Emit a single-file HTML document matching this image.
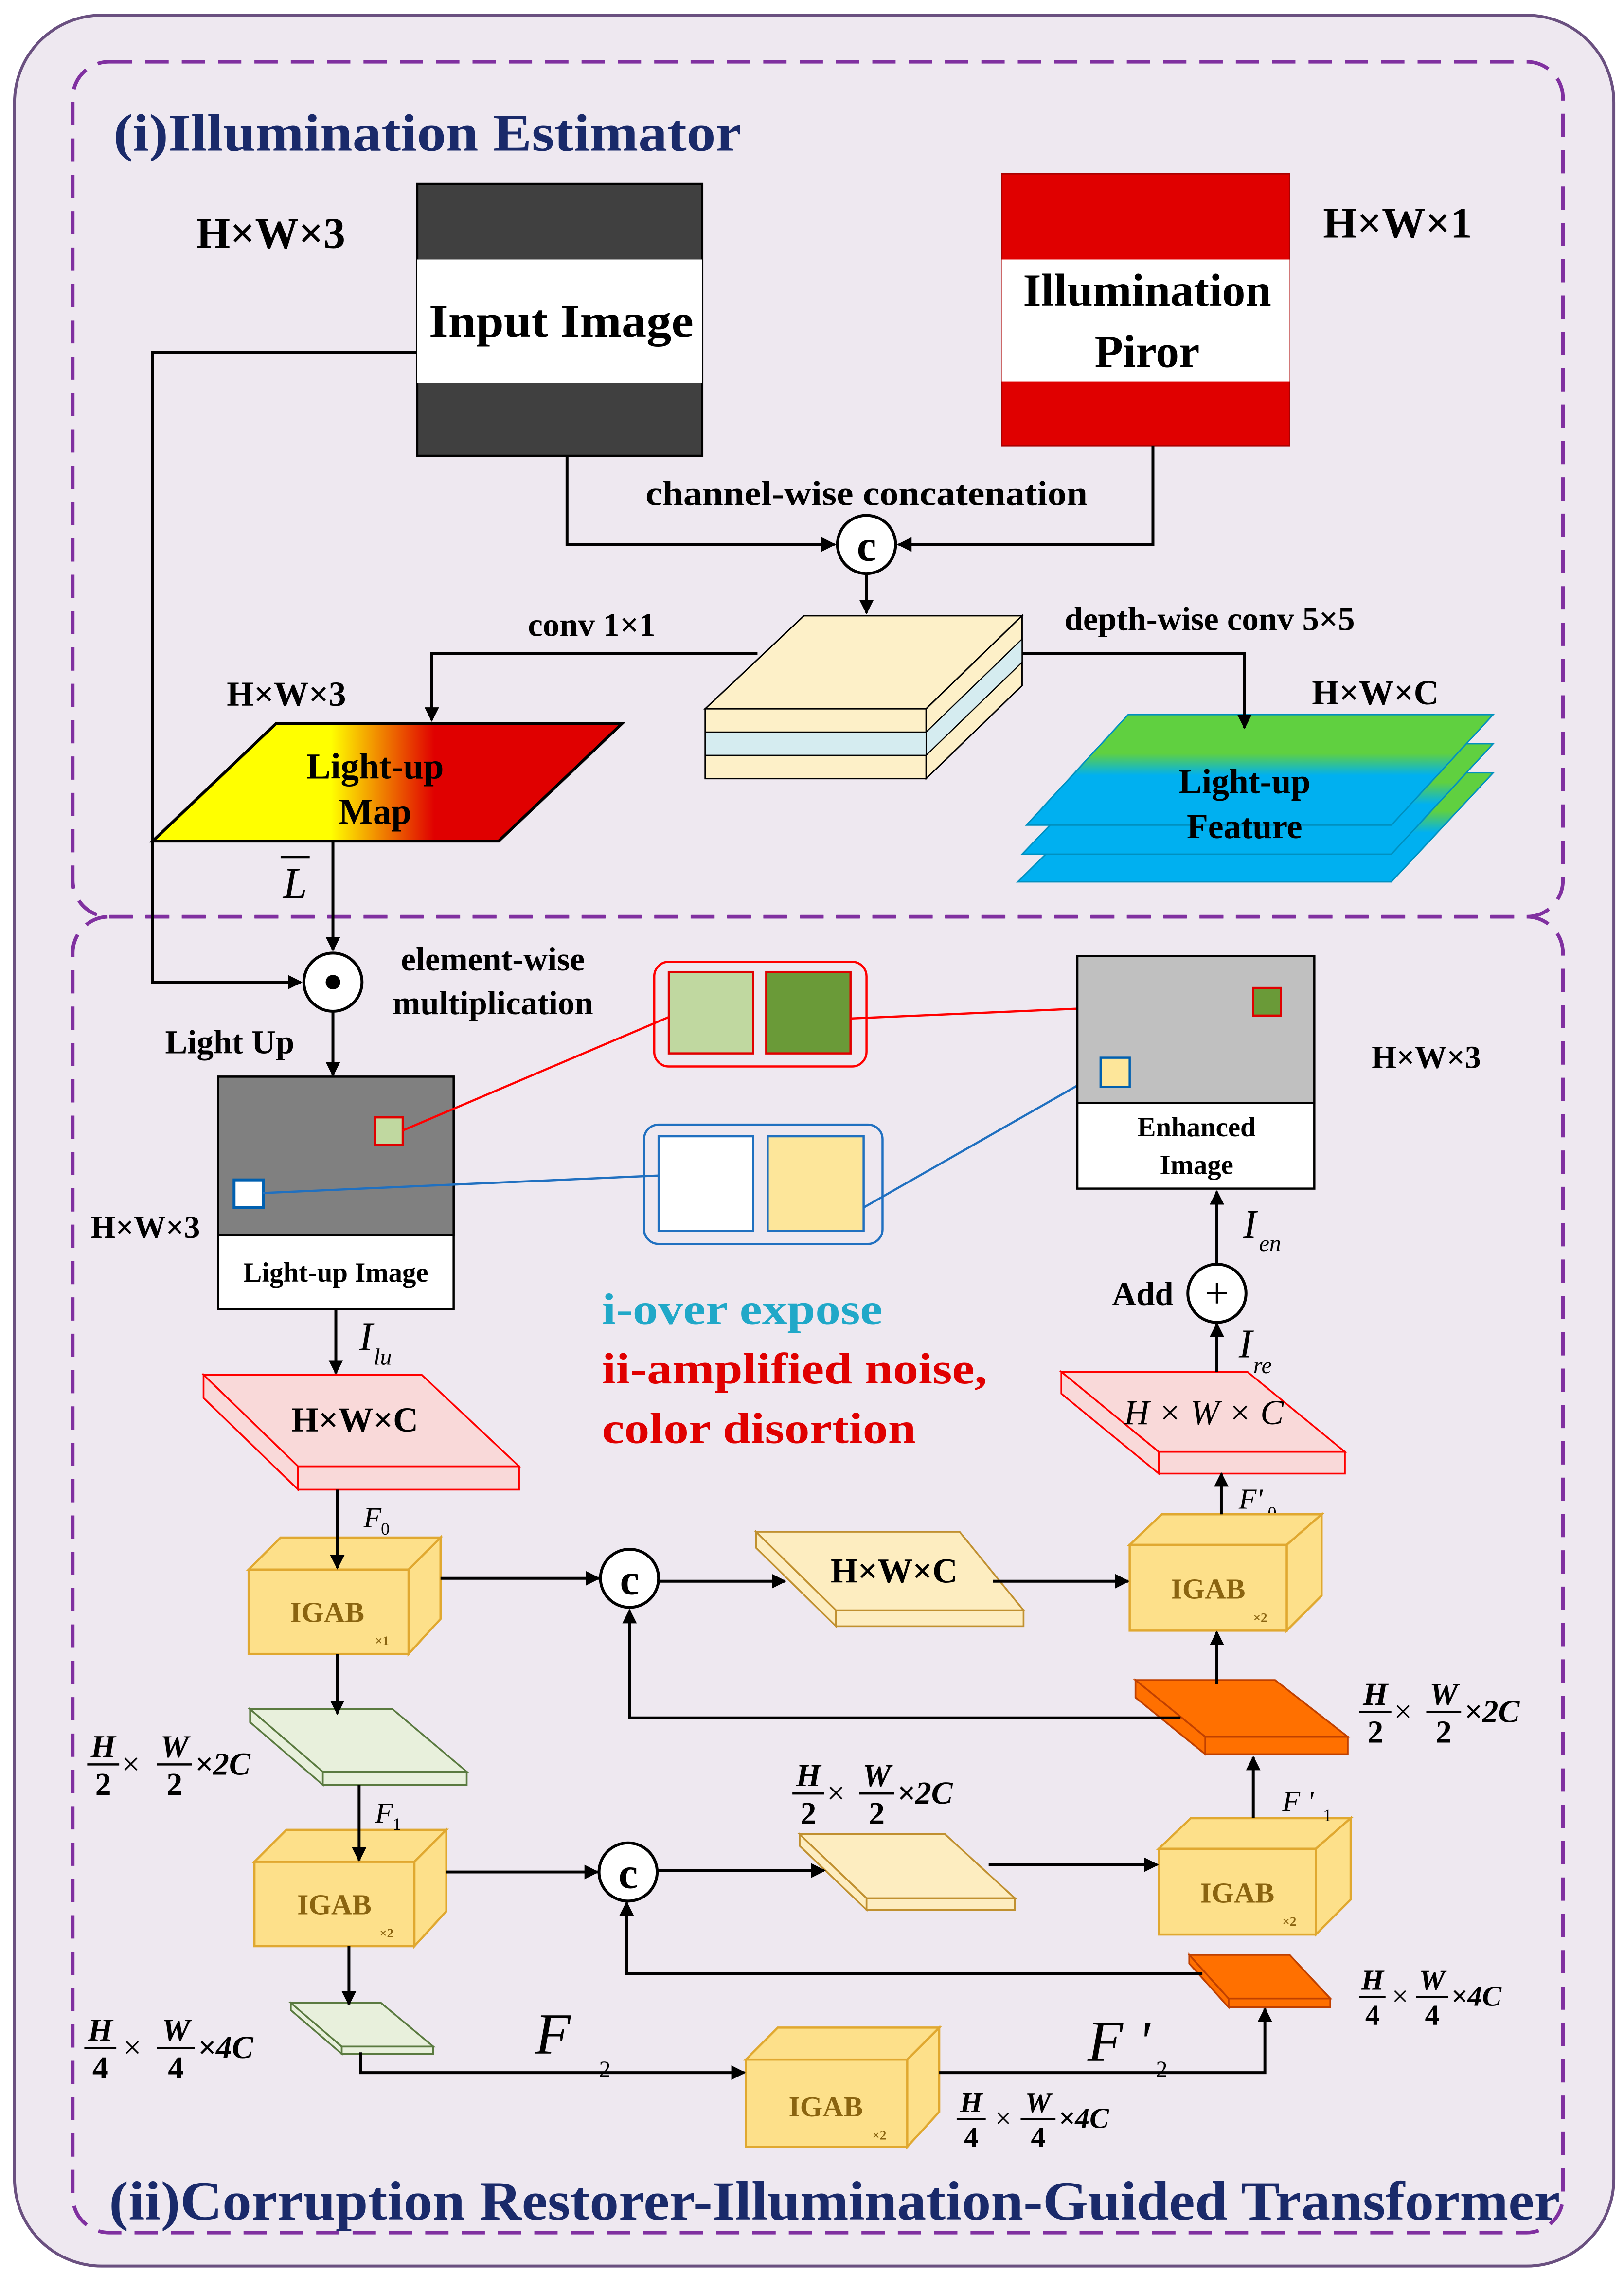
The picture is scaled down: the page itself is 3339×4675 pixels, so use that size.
<!DOCTYPE html>
<html><head><meta charset="utf-8"><style>
html,body{margin:0;padding:0;background:#fff}
svg{display:block}
text{font-family:"Liberation Serif",serif;font-weight:bold;fill:#000}
.it{font-style:italic}
.ig{fill:#8a6410;font-size:20px}
.sm{font-size:9px;fill:#8a6410}
</style></head><body>
<svg width="3339" height="4675" viewBox="0 0 1117 1563" xmlns="http://www.w3.org/2000/svg">
<defs>
<marker id="a" markerWidth="10" markerHeight="10" refX="9" refY="5" orient="auto" markerUnits="userSpaceOnUse"><path d="M0,0 L10,5 L0,10 Z" fill="#000"/></marker>
<linearGradient id="gm" x1="0" x2="1" y1="0" y2="0"><stop offset="0" stop-color="#ffff00"/><stop offset="0.38" stop-color="#ffff00"/><stop offset="0.6" stop-color="#e00000"/><stop offset="1" stop-color="#e00000"/></linearGradient>
<linearGradient id="gf" x1="0" x2="0" y1="0" y2="1"><stop offset="0" stop-color="#60d040"/><stop offset="0.35" stop-color="#60d040"/><stop offset="0.55" stop-color="#00b0f0"/><stop offset="1" stop-color="#00b0f0"/></linearGradient>
</defs>
<rect x="0" y="0" width="1117" height="1563" fill="#fff"/>
<rect x="10" y="10" width="1100" height="1548" rx="60" fill="#eee8f0" stroke="#6a5080" stroke-width="2"/>
<rect x="50" y="42" width="1025" height="588" rx="25" fill="none" stroke="#8030a0" stroke-width="2.5" stroke-dasharray="16,9"/>
<rect x="50" y="630" width="1025" height="905" rx="25" fill="none" stroke="#8030a0" stroke-width="2.5" stroke-dasharray="16,9"/>
<text x="78" y="103" font-size="36" style="fill:#1a2a6a" textLength="432" lengthAdjust="spacingAndGlyphs">(i)Illumination Estimator</text>
<text x="75" y="1526" font-size="38" style="fill:#1a2a6a" textLength="998" lengthAdjust="spacingAndGlyphs">(ii)Corruption Restorer-Illumination-Guided Transformer</text>

<!-- input image -->
<rect x="287" y="126" width="196" height="187" fill="#404040" stroke="#000" stroke-width="1.5"/>
<rect x="287" y="178" width="196" height="85" fill="#fff"/>
<text x="386" y="231" font-size="32" text-anchor="middle" textLength="182" lengthAdjust="spacingAndGlyphs">Input Image</text>
<text x="135" y="170" font-size="30">H×W×3</text>
<rect x="689" y="119" width="198" height="187" fill="#e00000" stroke="#a00" stroke-width="1"/>
<rect x="689" y="178" width="198" height="84" fill="#fff"/>
<text x="789" y="210" font-size="32" text-anchor="middle">Illumination</text>
<text x="789" y="252" font-size="32" text-anchor="middle">Piror</text>
<text x="910" y="163" font-size="30">H×W×1</text>
<text x="596" y="347" font-size="24" text-anchor="middle" textLength="304" lengthAdjust="spacingAndGlyphs">channel-wise concatenation</text>

<!-- slab -->
<polygon points="485,487 553,423 703,423 637,487" fill="#fdf0c8" stroke="#000" stroke-width="1"/>
<polygon points="637,487 703,423 703,471 637,535" fill="#fdf0c8" stroke="#000" stroke-width="1"/>
<polygon points="637,503 703,439 703,455 637,519" fill="#d5ecf0" stroke="#000" stroke-width="0.8"/>
<rect x="485" y="487" width="152" height="48" fill="#fdf0c8" stroke="#000" stroke-width="1"/>
<rect x="485" y="503" width="152" height="16" fill="#d5ecf0" stroke="#000" stroke-width="0.8"/>
<text x="407" y="437" font-size="23" text-anchor="middle">conv 1×1</text>
<text x="832" y="433" font-size="23" text-anchor="middle">depth-wise conv 5×5</text>

<!-- light-up map -->
<polygon points="105,578 190,497 428,497 343,578" fill="url(#gm)" stroke="#000" stroke-width="2"/>
<text x="258" y="535" font-size="25" text-anchor="middle">Light-up</text>
<text x="258" y="566" font-size="25" text-anchor="middle">Map</text>
<text x="197" y="485" font-size="24" text-anchor="middle">H×W×3</text>
<text x="203" y="617" font-size="30" class="it" text-anchor="middle" style="font-weight:normal">L</text>
<line x1="193" y1="589" x2="213" y2="589" stroke="#000" stroke-width="1.5"/>

<!-- light-up feature -->
<g stroke="#0090c0" stroke-width="1">
<polygon points="776,531 1027,531 957,606 700,606" fill="url(#gf)"/>
<polygon points="776,511 1027,511 957,587 703,587" fill="url(#gf)"/>
<polygon points="776,491 1027,491 957,567 706,567" fill="url(#gf)"/>
</g>
<text x="856" y="545" font-size="24" text-anchor="middle">Light-up</text>
<text x="856" y="576" font-size="24" text-anchor="middle">Feature</text>
<text x="946" y="484" font-size="24" text-anchor="middle">H×W×C</text>

<text x="339" y="667" font-size="23" text-anchor="middle">element-wise</text>
<text x="339" y="697" font-size="23" text-anchor="middle">multiplication</text>
<text x="158" y="724" font-size="23" text-anchor="middle">Light Up</text>

<!-- light-up image -->
<rect x="150" y="740" width="162" height="160" fill="#fff" stroke="#000" stroke-width="1.5"/>
<rect x="150" y="740" width="162" height="109" fill="#808080" stroke="#000" stroke-width="1.5"/>
<text x="231" y="881" font-size="19" text-anchor="middle">Light-up Image</text>
<text x="100" y="851" font-size="22" text-anchor="middle">H×W×3</text>
<rect x="258" y="768" width="19" height="19" fill="#c0d8a0" stroke="#e00000" stroke-width="1.5"/>
<rect x="161" y="811" width="20" height="19" fill="#fff" stroke="#0060b0" stroke-width="2"/>

<rect x="450" y="661" width="146" height="72" rx="10" fill="#eee8f0" stroke="#ff0000" stroke-width="1.5"/>
<rect x="460" y="668" width="58" height="56" fill="#c0d8a0" stroke="#e00000" stroke-width="1.5"/>
<rect x="527" y="668" width="58" height="56" fill="#6a9a38" stroke="#e00000" stroke-width="1.5"/>
<rect x="443" y="773" width="164" height="82" rx="10" fill="#eee8f0" stroke="#2070c0" stroke-width="1.5"/>
<rect x="453" y="781" width="65" height="65" fill="#fff" stroke="#2070c0" stroke-width="1.5"/>
<rect x="528" y="781" width="66" height="65" fill="#fde69a" stroke="#2070c0" stroke-width="1.5"/>
<line x1="277" y1="777" x2="460" y2="699" stroke="#ff0000" stroke-width="1.5"/>
<line x1="585" y1="700" x2="862" y2="688" stroke="#ff0000" stroke-width="1.5"/>
<line x1="181" y1="820" x2="453" y2="808" stroke="#2070c0" stroke-width="1.5"/>
<line x1="594" y1="830" x2="757" y2="737" stroke="#2070c0" stroke-width="1.5"/>

<!-- enhanced -->
<rect x="741" y="657" width="163" height="160" fill="#fff" stroke="#000" stroke-width="1.5"/>
<rect x="741" y="657" width="163" height="101" fill="#c0c0c0" stroke="#000" stroke-width="1.5"/>
<text x="823" y="781" font-size="19" text-anchor="middle">Enhanced</text>
<text x="823" y="807" font-size="19" text-anchor="middle">Image</text>
<rect x="862" y="679" width="19" height="19" fill="#6a9a38" stroke="#e00000" stroke-width="1.5"/>
<rect x="757" y="727" width="20" height="20" fill="#fde69a" stroke="#0060b0" stroke-width="1.5"/>
<text x="981" y="734" font-size="22" text-anchor="middle">H×W×3</text>

<text x="414" y="910" font-size="30" style="fill:#20a8c8" textLength="193" lengthAdjust="spacingAndGlyphs">i-over expose</text>
<text x="414" y="951" font-size="30" style="fill:#e00000" textLength="265" lengthAdjust="spacingAndGlyphs">ii-amplified noise,</text>
<text x="414" y="992" font-size="30" style="fill:#e00000" textLength="216" lengthAdjust="spacingAndGlyphs">color disortion</text>

<text x="247" y="928" font-size="28" class="it" style="font-weight:normal">I</text><text x="257" y="938" font-size="16" class="it" style="font-weight:normal">lu</text>
<text x="250" y="1050" font-size="20" class="it" style="font-weight:normal">F</text><text x="262" y="1055" font-size="12" style="font-weight:normal">0</text>

<!-- pink slab 1 -->
<polygon points="205,1008 357,1008 357,1024 205,1024" fill="#f9d9d9" stroke="#ff0000" stroke-width="1.2"/>
<polygon points="140,945 205,1008 205,1024 140,961" fill="#f9d9d9" stroke="#ff0000" stroke-width="1.2"/>
<polygon points="140,945 290,945 357,1008 205,1008" fill="#f9d9d9" stroke="#ff0000" stroke-width="1.2"/>
<text x="244" y="984" font-size="24" text-anchor="middle">H×W×C</text>

<!-- pink slab 2 -->
<polygon points="797,998 925,998 925,1013 797,1013" fill="#f9d9d9" stroke="#ff0000" stroke-width="1.2"/>
<polygon points="730,943 797,998 797,1013 730,958" fill="#f9d9d9" stroke="#ff0000" stroke-width="1.2"/>
<polygon points="730,943 858,943 925,998 797,998" fill="#f9d9d9" stroke="#ff0000" stroke-width="1.2"/>
<text x="828" y="979" font-size="24" class="it" text-anchor="middle" style="font-weight:normal">H × W × C</text>
<text x="852" y="1037" font-size="20" class="it" style="font-weight:normal">F'</text><text x="872" y="1044" font-size="12" style="font-weight:normal">0</text>
<text x="852" y="933" font-size="28" class="it" style="font-weight:normal">I</text><text x="862" y="944" font-size="16" class="it" style="font-weight:normal">re</text>
<text x="786" y="897" font-size="23" text-anchor="middle">Add</text>
<text x="855" y="851" font-size="28" class="it" style="font-weight:normal">I</text><text x="866" y="860" font-size="16" class="it" style="font-weight:normal">en</text>

<!-- cream slab 1 -->
<polygon points="575,1107 704,1107 704,1118 575,1118" fill="#fdedc0" stroke="#c09030" stroke-width="1.2"/>
<polygon points="520,1053 575,1107 575,1118 520,1064" fill="#fdedc0" stroke="#c09030" stroke-width="1.2"/>
<polygon points="520,1053 660,1053 704,1107 575,1107" fill="#fdedc0" stroke="#c09030" stroke-width="1.2"/>
<text x="615" y="1088" font-size="24" text-anchor="middle">H×W×C</text>

<!-- cream slab 2 -->
<polygon points="596,1305 698,1305 698,1313 596,1313" fill="#fdedc0" stroke="#c09030" stroke-width="1.2"/>
<polygon points="550,1261 596,1305 596,1313 550,1269" fill="#fdedc0" stroke="#c09030" stroke-width="1.2"/>
<polygon points="550,1261 650,1261 698,1305 596,1305" fill="#fdedc0" stroke="#c09030" stroke-width="1.2"/>

<!-- green slabs -->
<polygon points="222,1218 321,1218 321,1227 222,1227" fill="#e8f0dc" stroke="#5a7a40" stroke-width="1.2"/>
<polygon points="172,1175 222,1218 222,1227 172,1184" fill="#e8f0dc" stroke="#5a7a40" stroke-width="1.2"/>
<polygon points="172,1175 270,1175 321,1218 222,1218" fill="#e8f0dc" stroke="#5a7a40" stroke-width="1.2"/>
<polygon points="235,1407 298,1407 298,1412 235,1412" fill="#e8f0dc" stroke="#5a7a40" stroke-width="1.2"/>
<polygon points="200,1377 235,1407 235,1412 200,1382" fill="#e8f0dc" stroke="#5a7a40" stroke-width="1.2"/>
<polygon points="200,1377 262,1377 298,1407 235,1407" fill="#e8f0dc" stroke="#5a7a40" stroke-width="1.2"/>

<!-- orange slabs -->
<polygon points="829,1194 927,1194 927,1206 829,1206" fill="#ff7000" stroke="#c04000" stroke-width="1.2"/>
<polygon points="781,1155 829,1194 829,1206 781,1167" fill="#ff7000" stroke="#c04000" stroke-width="1.2"/>
<polygon points="781,1155 877,1155 927,1194 829,1194" fill="#ff7000" stroke="#c04000" stroke-width="1.2"/>
<polygon points="845,1374 915,1374 915,1380 845,1380" fill="#ff7000" stroke="#c04000" stroke-width="1.2"/>
<polygon points="818,1344 845,1374 845,1380 818,1350" fill="#ff7000" stroke="#c04000" stroke-width="1.2"/>
<polygon points="818,1344 887,1344 915,1374 845,1374" fill="#ff7000" stroke="#c04000" stroke-width="1.2"/>

<!-- IGAB boxes -->
<g stroke="#e0a830" stroke-width="1.5" fill="#fde08a">
<polygon points="171,1079 193,1057 303,1057 281,1079"/><polygon points="281,1079 303,1057 303,1113 281,1137"/><rect x="171" y="1079" width="110" height="58"/>
<polygon points="777,1062 799,1041 909,1041 885,1062"/><polygon points="885,1062 909,1041 909,1097 885,1121"/><rect x="777" y="1062" width="108" height="59"/>
<polygon points="175,1280 197,1258 307,1258 285,1280"/><polygon points="285,1280 307,1258 307,1314 285,1338"/><rect x="175" y="1280" width="110" height="58"/>
<polygon points="797,1271 819,1250 929,1250 905,1271"/><polygon points="905,1271 929,1250 929,1306 905,1330"/><rect x="797" y="1271" width="108" height="59"/>
<polygon points="513,1416 535,1394 646,1394 624,1416"/><polygon points="624,1416 646,1394 646,1452 624,1476"/><rect x="513" y="1416" width="111" height="60"/>
</g>
<text x="225" y="1115" class="ig" text-anchor="middle">IGAB</text><text x="258" y="1131" class="sm">×1</text>
<text x="831" y="1099" class="ig" text-anchor="middle">IGAB</text><text x="862" y="1115" class="sm">×2</text>
<text x="230" y="1316" class="ig" text-anchor="middle">IGAB</text><text x="261" y="1332" class="sm">×2</text>
<text x="851" y="1308" class="ig" text-anchor="middle">IGAB</text><text x="882" y="1324" class="sm">×2</text>
<text x="568" y="1455" class="ig" text-anchor="middle">IGAB</text><text x="600" y="1471" class="sm">×2</text>

<text x="258" y="1253" font-size="20" class="it" style="font-weight:normal">F</text><text x="270" y="1258" font-size="12" style="font-weight:normal">1</text>
<text x="882" y="1245" font-size="20" class="it" style="font-weight:normal">F '</text><text x="910" y="1252" font-size="12" style="font-weight:normal">1</text>
<text x="368" y="1412" font-size="40" class="it" style="font-weight:normal">F</text><text x="412" y="1428" font-size="16" style="font-weight:normal">2</text>
<text x="748" y="1417" font-size="40" class="it" style="font-weight:normal">F '</text><text x="795" y="1428" font-size="16" style="font-weight:normal">2</text>

<!-- fractions -->
<g transform="translate(60,1213)" font-size="22">
<text x="11" y="-5" class="it" text-anchor="middle">H</text><line x1="0" x2="22" y1="0" y2="0" stroke="#000" stroke-width="1.5"/><text x="11" y="21" text-anchor="middle">2</text>
<text x="30" y="7" text-anchor="middle" style="font-weight:normal">×</text>
<text x="60" y="-5" class="it" text-anchor="middle">W</text><line x1="48" x2="72" y1="0" y2="0" stroke="#000" stroke-width="1.5"/><text x="60" y="21" text-anchor="middle">2</text>
<text x="74" y="7" class="it">×2C</text>
</g>
<g transform="translate(545,1233)" font-size="22">
<text x="11" y="-5" class="it" text-anchor="middle">H</text><line x1="0" x2="22" y1="0" y2="0" stroke="#000" stroke-width="1.5"/><text x="11" y="21" text-anchor="middle">2</text>
<text x="30" y="7" text-anchor="middle" style="font-weight:normal">×</text>
<text x="58" y="-5" class="it" text-anchor="middle">W</text><line x1="46" x2="70" y1="0" y2="0" stroke="#000" stroke-width="1.5"/><text x="58" y="21" text-anchor="middle">2</text>
<text x="72" y="7" class="it">×2C</text>
</g>
<g transform="translate(935,1177)" font-size="22">
<text x="11" y="-5" class="it" text-anchor="middle">H</text><line x1="0" x2="22" y1="0" y2="0" stroke="#000" stroke-width="1.5"/><text x="11" y="21" text-anchor="middle">2</text>
<text x="30" y="7" text-anchor="middle" style="font-weight:normal">×</text>
<text x="58" y="-5" class="it" text-anchor="middle">W</text><line x1="46" x2="70" y1="0" y2="0" stroke="#000" stroke-width="1.5"/><text x="58" y="21" text-anchor="middle">2</text>
<text x="72" y="7" class="it">×2C</text>
</g>
<g transform="translate(58,1408)" font-size="22">
<text x="11" y="-5" class="it" text-anchor="middle">H</text><line x1="0" x2="22" y1="0" y2="0" stroke="#000" stroke-width="1.5"/><text x="11" y="21" text-anchor="middle">4</text>
<text x="33" y="7" text-anchor="middle" style="font-weight:normal">×</text>
<text x="63" y="-5" class="it" text-anchor="middle">W</text><line x1="50" x2="76" y1="0" y2="0" stroke="#000" stroke-width="1.5"/><text x="63" y="21" text-anchor="middle">4</text>
<text x="78" y="7" class="it">×4C</text>
</g>
<g transform="translate(658,1457)" font-size="20">
<text x="10" y="-5" class="it" text-anchor="middle">H</text><line x1="0" x2="20" y1="0" y2="0" stroke="#000" stroke-width="1.5"/><text x="10" y="19" text-anchor="middle">4</text>
<text x="32" y="6" text-anchor="middle" style="font-weight:normal">×</text>
<text x="56" y="-5" class="it" text-anchor="middle">W</text><line x1="44" x2="68" y1="0" y2="0" stroke="#000" stroke-width="1.5"/><text x="56" y="19" text-anchor="middle">4</text>
<text x="70" y="6" class="it">×4C</text>
</g>
<g transform="translate(935,1373)" font-size="20">
<text x="9" y="-5" class="it" text-anchor="middle">H</text><line x1="0" x2="18" y1="0" y2="0" stroke="#000" stroke-width="1.5"/><text x="9" y="19" text-anchor="middle">4</text>
<text x="28" y="6" text-anchor="middle" style="font-weight:normal">×</text>
<text x="50" y="-5" class="it" text-anchor="middle">W</text><line x1="39" x2="61" y1="0" y2="0" stroke="#000" stroke-width="1.5"/><text x="50" y="19" text-anchor="middle">4</text>
<text x="63" y="6" class="it">×4C</text>
</g>

<!-- all connectors on top -->
<g stroke="#000" stroke-width="2" fill="none">
<polyline points="287,242 105,242 105,675 207,675" marker-end="url(#a)"/>
<polyline points="390,313 390,374 574,374" marker-end="url(#a)"/>
<polyline points="793,306 793,374 618,374" marker-end="url(#a)"/>
<line x1="596" y1="394" x2="596" y2="421" marker-end="url(#a)"/>
<polyline points="521,449 297,449 297,495" marker-end="url(#a)"/>
<polyline points="703,449 856,449 856,500" marker-end="url(#a)"/>
<line x1="229" y1="578" x2="229" y2="653" marker-end="url(#a)"/>
<line x1="229" y1="695" x2="229" y2="739" marker-end="url(#a)"/>
<line x1="231" y1="900" x2="231" y2="944" marker-end="url(#a)"/>
<line x1="232" y1="1024" x2="232" y2="1078" marker-end="url(#a)"/>
<line x1="303" y1="1085" x2="412" y2="1085" marker-end="url(#a)"/>
<line x1="453" y1="1087" x2="540" y2="1087" marker-end="url(#a)"/>
<line x1="683" y1="1087" x2="776" y2="1087" marker-end="url(#a)"/>
<line x1="840" y1="1041" x2="840" y2="1013" marker-end="url(#a)"/>
<line x1="837" y1="943" x2="837" y2="910" marker-end="url(#a)"/>
<line x1="837" y1="868" x2="837" y2="819" marker-end="url(#a)"/>
<line x1="232" y1="1137" x2="232" y2="1178" marker-end="url(#a)"/>
<line x1="247" y1="1227" x2="247" y2="1279" marker-end="url(#a)"/>
<line x1="307" y1="1287" x2="411" y2="1287" marker-end="url(#a)"/>
<line x1="452" y1="1286" x2="567" y2="1286" marker-end="url(#a)"/>
<line x1="680" y1="1282" x2="796" y2="1282" marker-end="url(#a)"/>
<line x1="862" y1="1250" x2="862" y2="1208" marker-end="url(#a)"/>
<line x1="837" y1="1158" x2="837" y2="1122" marker-end="url(#a)"/>
<polyline points="812,1181 433,1181 433,1107" marker-end="url(#a)"/>
<line x1="240" y1="1338" x2="240" y2="1378" marker-end="url(#a)"/>
<polyline points="248,1411 248,1425 512,1425" marker-end="url(#a)"/>
<polyline points="646,1425 870,1425 870,1381" marker-end="url(#a)"/>
<polyline points="827,1357 431,1357 431,1308" marker-end="url(#a)"/>
</g>

<circle cx="596" cy="374" r="20" fill="#fff" stroke="#000" stroke-width="2"/>
<text x="596" y="385" font-size="30" text-anchor="middle">c</text>
<circle cx="229" cy="675" r="20" fill="#fff" stroke="#000" stroke-width="2"/>
<circle cx="229" cy="675" r="5" fill="#000"/>
<circle cx="837" cy="889" r="20" fill="#fff" stroke="#000" stroke-width="2"/>
<text x="837" y="899" font-size="30" text-anchor="middle" style="font-weight:normal">+</text>
<circle cx="433" cy="1085" r="20" fill="#fff" stroke="#000" stroke-width="2"/>
<text x="433" y="1096" font-size="30" text-anchor="middle">c</text>
<circle cx="432" cy="1287" r="20" fill="#fff" stroke="#000" stroke-width="2"/>
<text x="432" y="1298" font-size="30" text-anchor="middle">c</text>
</svg>
</body></html>
